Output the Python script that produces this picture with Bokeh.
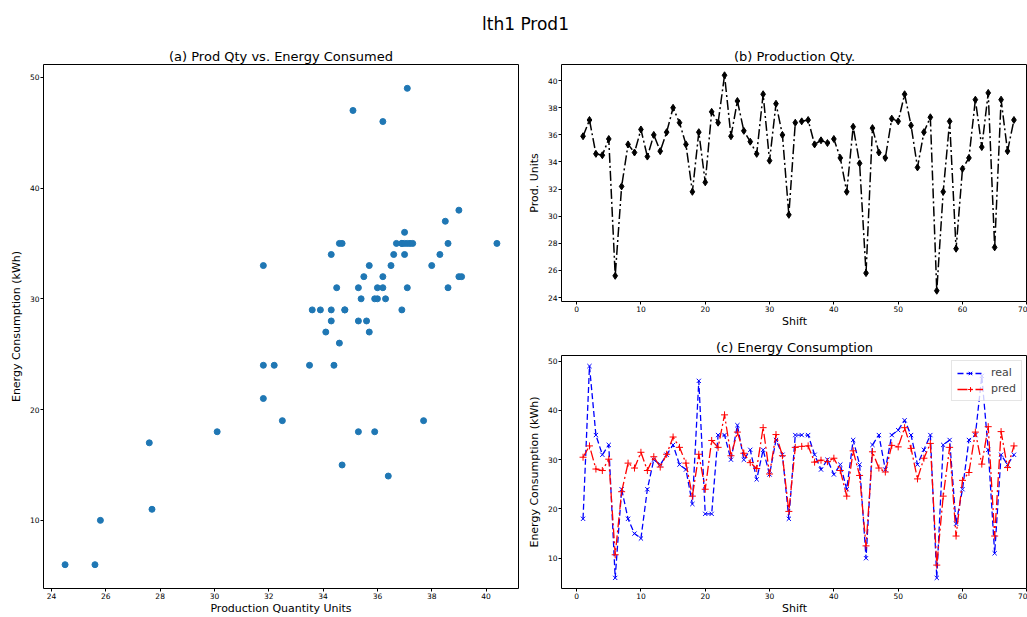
from bokeh.plotting import figure
from bokeh.layouts import row, column
from bokeh.models import Range1d, FixedTicker, Legend, LegendItem
from bokeh.embed import file_html
from bokeh.resources import INLINE

# ---------------- data ----------------
shift = list(range(1, 69))

prod_qty = [35.9, 37.1, 34.6, 34.5, 35.7, 25.6, 32.2, 35.3, 34.7, 36.4,
            34.4, 36.0, 34.8, 36.2, 38.0, 36.9, 35.3, 31.8, 36.2, 32.5,
            37.7, 36.9, 40.4, 35.9, 38.5, 36.3, 35.5, 34.6, 39.0, 34.1,
            38.3, 36.0, 30.1, 36.9, 37.0, 37.1, 35.3, 35.6, 35.4, 35.7,
            34.3, 31.8, 36.6, 33.9, 25.8, 36.5, 34.7, 34.3, 37.2, 37.0,
            39.0, 36.7, 33.6, 36.2, 37.3, 24.5, 31.8, 37.0, 27.6, 33.5,
            34.3, 38.6, 35.1, 39.1, 27.7, 38.6, 34.8, 37.1]

energy_real = [18, 49, 35, 31, 33, 6, 24, 18, 15, 14,
               24, 30, 29, 31, 33, 29, 28, 21, 46, 19,
               19, 35, 35, 30, 37, 30, 32, 26, 32, 27,
               34, 31, 18, 35, 35, 35, 31, 28, 30, 27,
               29, 24, 34, 29, 10, 33, 35, 28, 35, 36,
               38, 35, 29, 32, 35, 6, 33, 34, 17, 24,
               34, 35, 47, 32, 11, 31, 29, 31]

energy_pred = [30.5, 32.8, 28.1, 27.8, 30.1, 10.7, 23.5, 29.3, 28.3, 31.5,
               27.8, 30.6, 28.5, 31.1, 34.6, 32.5, 29.3, 22.6, 31.1, 24.0,
               33.9, 32.5, 39.1, 30.8, 35.6, 31.3, 29.4, 28.2, 36.5, 27.1,
               35.1, 30.8, 19.5, 32.5, 32.7, 32.8, 29.5, 29.9, 29.6, 30.3,
               27.8, 22.6, 31.8, 26.8, 12.5, 31.6, 28.3, 27.5, 32.9, 32.6,
               36.5, 32.3, 26.1, 30.3, 33.3, 8.6, 22.6, 32.5, 14.5, 25.8,
               27.4, 35.6, 29.1, 36.7, 14.5, 35.7, 28.4, 32.8]

suptitle = "lth1 Prod1"
title_a = "(a) Prod Qty vs. Energy Consumed"
title_b = "(b) Production Qty."
title_c = "(c) Energy Consumption"

ticks_a_x = [24, 26, 28, 30, 32, 34, 36, 38, 40]
ticks_energy = [10, 20, 30, 40, 50]
ticks_prod = [24, 26, 28, 30, 32, 34, 36, 38, 40]
ticks_shift = [0, 10, 20, 30, 40, 50, 60, 70]

FONT = "DejaVu Sans"


def padded(vals):
    lo, hi = min(vals), max(vals)
    pad = 0.05 * (hi - lo)
    return lo - pad, hi + pad


def style(p, title):
    p.title.text = title
    p.title.text_font = FONT
    p.title.text_font_size = "13px"
    p.title.text_font_style = "normal"
    p.title.text_color = "black"
    p.title.align = "center"
    p.title.standoff = 1
    p.outline_line_color = "black"
    p.outline_line_width = 1
    p.xgrid.visible = False
    p.ygrid.visible = False
    for ax in list(p.xaxis) + list(p.yaxis):
        ax.axis_line_color = None
        ax.major_tick_line_color = "black"
        ax.major_tick_out = 3
        ax.major_tick_in = 0
        ax.minor_tick_line_color = None
        ax.major_label_text_font = FONT
        ax.major_label_text_font_size = "7.5px"
        ax.major_label_text_color = "black"
        ax.major_label_standoff = 1
        ax.axis_label_text_font = FONT
        ax.axis_label_text_font_size = "11px"
        ax.axis_label_text_font_style = "normal"
        ax.axis_label_text_color = "black"
        ax.axis_label_standoff = 0


# ---------------- suptitle strip ----------------
top = figure(width=1027, height=36, toolbar_location=None, output_backend="svg",
             min_border_left=23, min_border_right=0, min_border_top=33,
             min_border_bottom=0, x_axis_location=None, y_axis_location=None)
top.title.text = suptitle
top.title.text_font = FONT
top.title.text_font_size = "17px"
top.title.text_font_style = "normal"
top.title.text_color = "black"
top.title.align = "center"
top.title.standoff = 0
top.outline_line_color = None
top.xgrid.visible = False
top.ygrid.visible = False

# ---------------- (a) scatter ----------------
ax0, ax1 = padded(prod_qty)
ay0, ay1 = padded(energy_real)
pa = figure(width=523, height=581, toolbar_location=None, output_backend="svg",
            x_range=Range1d(ax0, ax1), y_range=Range1d(ay0, ay1),
            min_border_left=43, min_border_right=5, min_border_top=28,
            min_border_bottom=24)
pa.scatter(prod_qty, energy_real, size=6, color="#1f77b4")
style(pa, title_a)
pa.xaxis.ticker = FixedTicker(ticks=ticks_a_x)
pa.yaxis.ticker = FixedTicker(ticks=ticks_energy)
pa.xaxis.axis_label = "Production Quantity Units"
pa.yaxis.axis_label = "Energy Consumption (kWh)"
pa.yaxis.axis_label_standoff = 4

# shared shift range (the reference frame runs past the window edge)
sx0, sx1 = padded(shift)
ref_frame_w = 474.0
my_frame_w = 504 - 38
sx_end = sx0 + (sx1 - sx0) * my_frame_w / ref_frame_w

# ---------------- (b) production ----------------
by0, by1 = padded(prod_qty)
pb = figure(width=504, height=296, toolbar_location=None, output_backend="svg",
            x_range=Range1d(sx0, sx_end), y_range=Range1d(by0, by1),
            min_border_left=38, min_border_right=0, min_border_top=28,
            min_border_bottom=31)
pb.line(shift, prod_qty, color="black", line_width=1.5, line_dash="10 3 2 3")
pb.scatter(shift, prod_qty, marker="diamond", size=7, color="black")
style(pb, title_b)
pb.xaxis.ticker = FixedTicker(ticks=ticks_shift)
pb.yaxis.ticker = FixedTicker(ticks=ticks_prod)
pb.xaxis.axis_label = "Shift"
pb.yaxis.axis_label = "Prod. Units"
pb.yaxis.axis_label_standoff = 4

# ---------------- (c) energy ----------------
cy0, cy1 = padded(energy_real + energy_pred)
pc = figure(width=504, height=285, toolbar_location=None, output_backend="svg",
            x_range=Range1d(sx0, sx_end), y_range=Range1d(cy0, cy1),
            min_border_left=38, min_border_right=0, min_border_top=23,
            min_border_bottom=24)
l1 = pc.line(shift, energy_real, color="blue", line_width=1.3, line_dash="6 3")
m1 = pc.scatter(shift, energy_real, marker="x", size=6, color="blue", line_width=1)
l2 = pc.line(shift, energy_pred, color="red", line_width=1.3, line_dash="10 3 2 3")
m2 = pc.scatter(shift, energy_pred, marker="cross", size=7, color="red", line_width=1)
style(pc, title_c)
pc.xaxis.ticker = FixedTicker(ticks=ticks_shift)
pc.yaxis.ticker = FixedTicker(ticks=ticks_energy)
pc.xaxis.axis_label = "Shift"
pc.yaxis.axis_label = "Energy Consumption (kWh)"
pc.yaxis.axis_label_standoff = 4

legend = Legend(items=[LegendItem(label="real", renderers=[l1, m1]),
                       LegendItem(label="pred", renderers=[l2, m2])],
                location="top_right")
legend.label_text_font = FONT
legend.label_text_font_size = "11px"
legend.border_line_color = "#cccccc"
legend.background_fill_alpha = 0.8
legend.glyph_width = 26
legend.glyph_height = 12
legend.label_height = 12
legend.spacing = 3
legend.padding = 5
legend.margin = 5
legend.label_standoff = 8
pc.add_layout(legend)

layout = column(top, row(pa, column(pb, pc)))

open("out.html", "w").write(file_html(layout, INLINE))
